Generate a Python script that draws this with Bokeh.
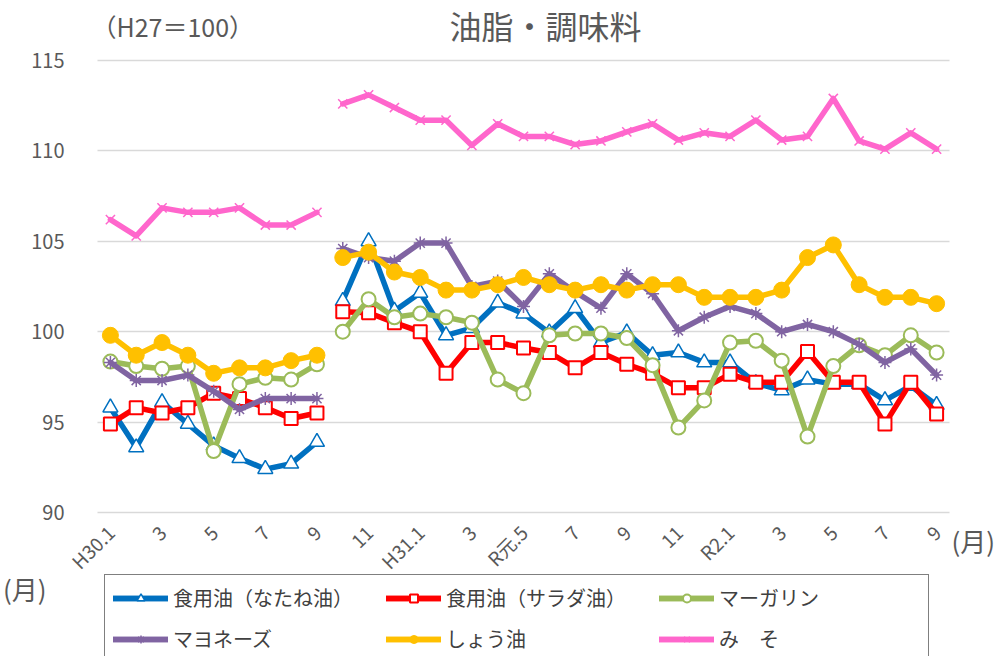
import math
from bokeh.plotting import figure
from bokeh.models import (Range1d, FixedTicker, Label, Legend, LegendItem,
                          Grid, BoxAnnotation)
from bokeh.embed import file_html
from bokeh.resources import INLINE

# ---------------- data ----------------
months = list(range(33))  # H30.1 ... R2.9
tick_positions = list(range(0, 33, 2))
tick_labels = ["H30.1", "3", "5", "7", "9", "11", "H31.1", "3", "R元.5",
               "7", "9", "11", "R2.1", "3", "5", "7", "9"]
segments = [(0, 9), (9, 33)]  # line breaks between H30.9 and H30.10
y_ticks = [90, 95, 100, 105, 110, 115]

rapeseed_oil = [95.8, 93.6, 96.1, 94.9, 93.7, 93.0, 92.4, 92.7, 93.9,
                101.7, 105.0, 101.15, 102.15, 99.8, 100.2, 101.6, 101.0, 99.95, 101.3,
                99.4, 99.95, 98.7, 98.85, 98.3, 98.3, 97.15, 96.75, 97.35, 97.1, 97.1,
                96.2, 97.0, 95.95]
salad_oil = [94.9, 95.8, 95.5, 95.8, 96.6, 96.3, 95.8, 95.2, 95.5,
             101.1, 101.05, 100.5, 100.0, 97.7, 99.4, 99.4, 99.1, 98.85, 98.0,
             98.85, 98.2, 97.7, 96.9, 96.9, 97.65, 97.2, 97.2, 98.9, 97.2, 97.2,
             94.9, 97.2, 95.45]
margarine = [98.35, 98.1, 97.95, 98.1, 93.4, 97.1, 97.45, 97.35, 98.2,
             100.0, 101.8, 100.8, 101.0, 100.8, 100.5, 97.35, 96.6, 99.8, 99.9,
             99.9, 99.65, 98.15, 94.7, 96.2, 99.4, 99.5, 98.4, 94.2, 98.1, 99.25,
             98.7, 99.8, 98.85]
mayonnaise = [98.3, 97.3, 97.3, 97.6, 96.7, 95.7, 96.3, 96.3, 96.3,
              104.6, 104.1, 103.9, 104.9, 104.9, 102.5, 102.8, 101.4, 103.2, 102.2,
              101.3, 103.2, 102.1, 100.05, 100.8, 101.4, 101.0, 100.0, 100.4, 100.0,
              99.3, 98.3, 99.05, 97.6]
soy_sauce = [99.8, 98.7, 99.4, 98.7, 97.7, 98.0, 98.0, 98.4, 98.7,
             104.1, 104.4, 103.3, 103.0, 102.3, 102.3, 102.6, 103.0, 102.6, 102.3,
             102.6, 102.3, 102.6, 102.6, 101.9, 101.9, 101.9, 102.3, 104.1, 104.8,
             102.6, 101.9, 101.9, 101.55]
miso = [106.2, 105.3, 106.85, 106.6, 106.6, 106.85, 105.9, 105.9, 106.6,
        112.6, 113.1, 112.4, 111.7, 111.7, 110.3, 111.5, 110.8, 110.8, 110.35,
        110.55, 111.05, 111.5, 110.6, 111.0, 110.8, 111.7, 110.6, 110.8, 112.9,
        110.55, 110.1, 111.0, 110.1]

series_names = ["食用油（なたね油）", "食用油（サラダ油）", "マーガリン",
                "マヨネーズ", "しょう油", "み　そ"]
series_values = [rapeseed_oil, salad_oil, margarine, mayonnaise, soy_sauce, miso]
series_colors = ["#0070C0", "#FF0000", "#9BBB59", "#8064A2", "#FFC000", "#FF66CC"]
series_markers = ["triangle", "square", "circle", "asterisk", "circle", "x"]
marker_sizes = [15, 13, 14, 13, 16, 13]
marker_fills = ["white", "white", "white", None, "#FFC000", None]
marker_line_widths = [1.5, 2, 2, 1.5, 1, 1.5]
legend_order = [0, 3, 1, 4, 2, 5]  # column-major fill of a 2 x 3 legend

title_text = "油脂・調味料"
base_text = "（H27＝100）"
unit_text = "(月)"

FONT = "Noto Sans CJK JP"
GREY = "#595959"

# ---------------- layout geometry (pixels) ----------------
W, H = 1002, 656
PLOT_L, PLOT_R = 97, 949      # plot area left/right
PLOT_T, PLOT_B = 60, 512      # y=115 and y=90 lines
Y_LO, Y_HI = 90, 115
X_LO, X_HI = -0.5, 32.5
ppu = (PLOT_B - PLOT_T) / (Y_HI - Y_LO)
xpu = (PLOT_R - PLOT_L) / (X_HI - X_LO)


def dx(px):
    return X_LO + (px - PLOT_L) / xpu


def dy(py):
    return Y_HI + (PLOT_T - py) / ppu


p = figure(width=W, height=H, output_backend="svg", toolbar_location=None,
           title=None,
           x_range=Range1d(dx(0), dx(W)), y_range=Range1d(dy(H), dy(0)),
           min_border_left=0, min_border_right=0,
           min_border_top=0, min_border_bottom=0)
p.outline_line_color = None
p.background_fill_color = "white"
p.border_fill_color = "white"
p.xgrid.visible = False
p.ygrid.grid_line_color = "#D9D9D9"
p.ygrid.grid_line_width = 1.5
if "cross_bounds" in Grid.properties():
    p.ygrid.cross_bounds = (X_LO, X_HI)
else:
    for kw in ({"right": X_LO}, {"left": X_HI}):
        p.add_layout(BoxAnnotation(fill_color="white", fill_alpha=1,
                                   line_color=None, level="underlay", **kw))

p.yaxis.ticker = FixedTicker(ticks=y_ticks)
p.yaxis.fixed_location = X_LO
p.yaxis.axis_line_color = None
p.yaxis.major_tick_line_color = None
p.yaxis.minor_tick_line_color = None
p.yaxis.major_label_standoff = 27
p.yaxis.major_label_text_font = FONT
p.yaxis.major_label_text_font_size = "20px"
p.yaxis.major_label_text_color = GREY

p.xaxis.ticker = FixedTicker(ticks=tick_positions)
p.xaxis.major_label_overrides = {t: l for t, l in zip(tick_positions, tick_labels)}
p.xaxis.fixed_location = Y_LO
p.xaxis.axis_line_color = None
p.xaxis.major_tick_line_color = None
p.xaxis.minor_tick_line_color = None
p.xaxis.major_label_orientation = math.pi / 4
p.xaxis.major_label_standoff = 10
p.xaxis.major_label_text_font = FONT
p.xaxis.major_label_text_font_size = "19px"
p.xaxis.major_label_text_color = GREY

items = []
for name, vals, col, mk, ms, mf, mlw in zip(series_names, series_values, series_colors,
                                            series_markers, marker_sizes, marker_fills,
                                            marker_line_widths):
    rs = []
    for a, b in segments:
        r = p.line(months[a:b], vals[a:b], line_color=col, line_width=5.5,
                   line_join="round", line_cap="round")
        rs.append(r)
    s = p.scatter(months, vals, marker=mk, size=ms, line_color=col,
                  line_width=mlw, fill_color=mf if mf else col)
    rs.append(s)
    items.append(LegendItem(label=name, renderers=rs))

legend = Legend(items=[items[i] for i in legend_order], ncols=3, location=(104, -6),
                glyph_width=55, glyph_height=20, label_standoff=5,
                label_width=201, spacing=12, padding=8, margin=0,
                label_text_font=FONT, label_text_font_size="20px",
                label_text_color="#404040",
                border_line_color="black", border_line_width=1.5,
                background_fill_color="white", background_fill_alpha=1)
p.add_layout(legend, "center")

p.add_layout(Label(x=dx(545), y=dy(24), text=title_text, text_align="center",
                   text_baseline="middle", text_font=FONT,
                   text_font_size="32px", text_color=GREY))
p.add_layout(Label(x=dx(91), y=dy(25), text=base_text, text_align="left",
                   text_baseline="middle", text_font=FONT,
                   text_font_size="25px", text_color=GREY))
p.add_layout(Label(x=dx(951), y=dy(540), text=unit_text, text_align="left",
                   text_baseline="middle", text_font=FONT,
                   text_font_size="26px", text_color=GREY))
p.add_layout(Label(x=dx(46), y=dy(588), text=unit_text, text_align="right",
                   text_baseline="middle", text_font=FONT,
                   text_font_size="26px", text_color=GREY))

open("out.html", "w").write(file_html(p, INLINE))
